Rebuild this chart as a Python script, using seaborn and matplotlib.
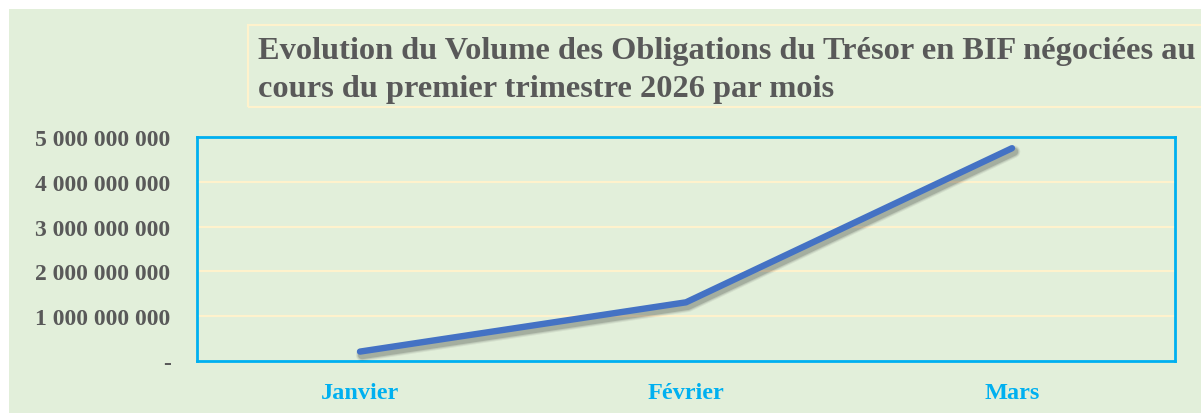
import matplotlib
matplotlib.use("Agg")
import matplotlib.pyplot as plt
import matplotlib.patheffects as pe
from matplotlib.patches import Rectangle
import pandas as pd
import seaborn as sns

# Data
mois = ["Janvier", "Février", "Mars"]
volume = [210_000_000, 1_310_000_000, 4_750_000_000]
y_ticks = [0, 1e9, 2e9, 3e9, 4e9, 5e9]
y_labels = ["-", "1 000 000 000", "2 000 000 000", "3 000 000 000",
            "4 000 000 000", "5 000 000 000"]
titre = ("Evolution du Volume des Obligations du Trésor en BIF négociées au\n"
         "cours du premier trimestre 2026 par mois")

df = pd.DataFrame({"Mois": mois, "Volume": volume})

bg = "#E2EFDA"
grey = "#595959"
blue_axis = "#00B0F0"
line_col = "#4472C4"
grid_col = "#FFF2CC"

sns.set_style("white")
plt.rcParams["font.family"] = ["Liberation Serif", "DejaVu Serif"]

fig = plt.figure(figsize=(12.01, 4.14), dpi=100, facecolor="white")
W, H = 1201, 414
# green chart area
fig.patches.append(Rectangle((9 / W, 0), 1 - 9 / W, 1 - 10 / H, transform=fig.transFigure,
                             facecolor=bg, edgecolor="none", zorder=-2))
# title box
fig.patches.append(Rectangle((248 / W, 1 - 108 / H), 1 - 248 / W + 0.01, 82 / H,
                             transform=fig.transFigure, facecolor="none",
                             edgecolor=grid_col, linewidth=1.5, zorder=-1))

ax = fig.add_axes([197 / W, 1 - 362 / H, (1175 - 197) / W, (362 - 138) / H])
ax.set_zorder(1)
ax.set_facecolor(bg)

# soft blurred shadow built from a few translucent layers
shadow = [pe.SimpleLineShadow(offset=(1.5, -2.5), shadow_color="black", alpha=a, linewidth=lw)
          for lw, a in [(9, 0.06), (7.5, 0.09), (6, 0.14)]]
sns.lineplot(data=df, x="Mois", y="Volume", ax=ax, color=line_col, linewidth=4.6,
             solid_capstyle="round", zorder=3,
             path_effects=shadow + [pe.Normal()])

ax.set_xlim(-0.5, 2.5)
ax.set_ylim(0, 5e9)
ax.set_yticks(y_ticks)
ax.set_yticklabels(y_labels, fontsize=17, fontweight="bold", color=grey)
ax.set_xticks(range(len(mois)))
ax.set_xticklabels(mois, fontsize=17.5, fontweight="bold", color=blue_axis)
ax.tick_params(axis="y", length=0, pad=19)
ax.tick_params(axis="x", length=0, pad=15)
ax.set_xlabel("")
ax.set_ylabel("")

for y in y_ticks[1:-1]:
    ax.axhline(y, color=grid_col, linewidth=1.5, zorder=1)

for s in ax.spines.values():
    s.set_visible(True)
    s.set_color(blue_axis)
    s.set_linewidth(2)

fig.text(258 / W, 1 - 37 / H, titre, fontsize=23.3, fontweight="bold", color=grey,
         ha="left", va="top", linespacing=1.41, zorder=2)

fig.savefig("out.png", dpi=100, facecolor="white")
